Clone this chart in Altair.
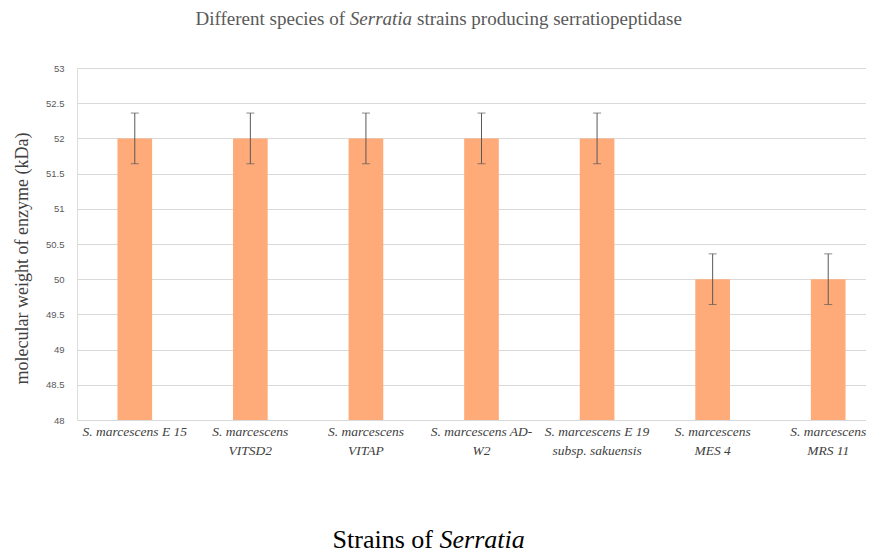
import altair as alt
import pandas as pd

strains = [
    "S. marcescens E 15",
    "S. marcescens\nVITSD2",
    "S. marcescens\nVITAP",
    "S. marcescens AD-\nW2",
    "S. marcescens E 19\nsubsp. sakuensis",
    "S. marcescens\nMES 4",
    "S. marcescens\nMRS 11",
]
weights = [52, 52, 52, 52, 52, 50, 50]
errors = [0.36, 0.36, 0.36, 0.36, 0.36, 0.36, 0.36]
y_ticks = [48, 48.5, 49, 49.5, 50, 50.5, 51, 51.5, 52, 52.5, 53]

df = pd.DataFrame({"strain": strains, "mw": weights, "err": errors})
df["lo"] = df["mw"] - df["err"]
df["hi"] = df["mw"] + df["err"]

SERIF = "Liberation Serif"

x_scale = alt.Scale(range=[0, 809], paddingInner=0.7, paddingOuter=0.35)
x_axis = alt.Axis(
    title=None,
    labelAngle=0,
    labelExpr="split(datum.value, '\\n')",
    labelFont=SERIF,
    labelFontStyle="italic",
    labelFontSize=13.5,
    labelColor="#404040",
    labelLineHeight=19,
    labelPadding=4,
    labelBaseline="top",
    labelOverlap=False,
    ticks=False,
    domain=False,
    grid=False,
)

y_scale = alt.Scale(domain=[48, 53], zero=False, nice=False)
y_axis = alt.Axis(
    values=y_ticks,
    format="~g",
    title="molecular weight of enzyme  (kDa)",
    titleFont=SERIF,
    titleFontSize=18,
    titleFontWeight="normal",
    titleColor="#404040",
    titleX=-46,
    titleY=190,
    labelFont="Liberation Sans",
    labelFontSize=9.5,
    labelColor="#595959",
    labelPadding=13,
    labelOverlap=False,
    ticks=False,
    tickSize=0,
    domain=False,
    grid=True,
    gridColor="#d9d9d9",
    gridWidth=1,
)


def X():
    return alt.X("strain:N", sort=strains, scale=x_scale, axis=x_axis)


def Y(field):
    return alt.Y(field, scale=y_scale, axis=y_axis)


base = alt.Chart(df)

bars = base.mark_bar(color="#FFAB79", clip=True).encode(x=X(), y=Y("mw:Q"))

err_rule = base.mark_rule(color="#595959", strokeWidth=1).encode(
    x=X(), y=Y("lo:Q"), y2="hi:Q"
)
cap_hi = base.mark_tick(color="#595959", thickness=1, size=8).encode(
    x=X(), y=Y("hi:Q")
)
cap_lo = base.mark_tick(color="#595959", thickness=1, size=8).encode(
    x=X(), y=Y("lo:Q")
)

one = pd.DataFrame({"k": [0]})
tcol = "#595959"
TS = 19
DX = -7
t1 = alt.Chart(one).mark_text(
    text="Different species of", font=SERIF, fontSize=TS, color=tcol,
    align="right", baseline="alphabetic",
).encode(x=alt.value(275 + DX), y=alt.value(-43))
t2 = alt.Chart(one).mark_text(
    text="Serratia", font=SERIF, fontSize=TS, fontStyle="italic", color=tcol,
    align="left", baseline="alphabetic",
).encode(x=alt.value(279.8 + DX), y=alt.value(-43))
t3 = alt.Chart(one).mark_text(
    text="strains producing serratiopeptidase", font=SERIF, fontSize=TS, color=tcol,
    align="left", baseline="alphabetic",
).encode(x=alt.value(347 + DX), y=alt.value(-43))

xt1 = alt.Chart(one).mark_text(
    text="Strains of", font=SERIF, fontSize=26, color="#000000",
    align="right", baseline="alphabetic",
).encode(x=alt.value(356), y=alt.value(480))
xt2 = alt.Chart(one).mark_text(
    text="Serratia", font=SERIF, fontSize=26, fontStyle="italic", color="#000000",
    align="left", baseline="alphabetic",
).encode(x=alt.value(362.5), y=alt.value(480))

chart = alt.layer(bars, err_rule, cap_hi, cap_lo, t1, t2, t3, xt1, xt2).properties(
    width=789,
    height=352,
    autosize=alt.AutoSizeParams(type="none"),
    padding={"left": 69, "top": 60, "right": 0, "bottom": 134},
).configure_view(stroke=None, strokeWidth=0).configure(background="white")

chart.save("out.html", embed_options={"renderer": "svg", "actions": False})
